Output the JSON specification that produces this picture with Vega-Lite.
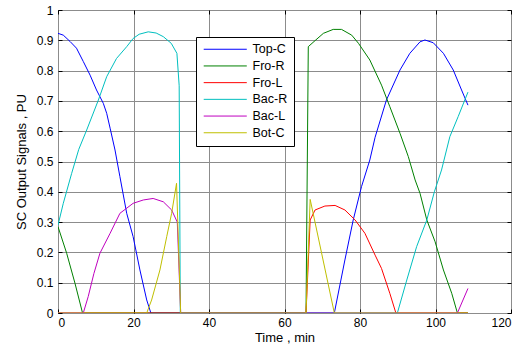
{
  "$schema": "https://vega.github.io/schema/vega-lite/v6.json",
  "width": 453,
  "height": 303,
  "autosize": {"type": "none"},
  "padding": {"left": 58, "top": 10, "right": 15, "bottom": 35},
  "background": "white",
  "config": {
    "font": "Liberation Sans",
    "view": {"stroke": "black", "strokeWidth": 1},
    "axis": {
      "labelFont": "Liberation Sans",
      "titleFont": "Liberation Sans",
      "labelFontSize": 12,
      "titleFontSize": 13,
      "titleFontWeight": "normal",
      "labelColor": "black",
      "titleColor": "black",
      "gridColor": "#8c8c8c",
      "gridOpacity": 1,
      "gridWidth": 1,
      "tickColor": "black",
      "domain": false
    }
  },
  "data": {
    "values": [
      {"s": "Top-C", "t": 0, "v": 0.923}, {"s": "Top-C", "t": 1.4, "v": 0.917}, {"s": "Top-C", "t": 3.2, "v": 0.896}, {"s": "Top-C", "t": 4.9, "v": 0.874}, {"s": "Top-C", "t": 6.7, "v": 0.83}, {"s": "Top-C", "t": 8.5, "v": 0.785}, {"s": "Top-C", "t": 10.2, "v": 0.736}, {"s": "Top-C", "t": 12, "v": 0.692}, {"s": "Top-C", "t": 12.9, "v": 0.659}, {"s": "Top-C", "t": 13.8, "v": 0.61}, {"s": "Top-C", "t": 15.1, "v": 0.538}, {"s": "Top-C", "t": 16.4, "v": 0.45}, {"s": "Top-C", "t": 18.2, "v": 0.329}, {"s": "Top-C", "t": 19.9, "v": 0.252}, {"s": "Top-C", "t": 21.7, "v": 0.142}, {"s": "Top-C", "t": 23.5, "v": 0.043}, {"s": "Top-C", "t": 24.6, "v": 0}, {"s": "Top-C", "t": 32.5, "v": 0}, {"s": "Top-C", "t": 65.7, "v": 0}, {"s": "Top-C", "t": 73.2, "v": 0}, {"s": "Top-C", "t": 76, "v": 0.175}, {"s": "Top-C", "t": 78.2, "v": 0.307}, {"s": "Top-C", "t": 80.4, "v": 0.417}, {"s": "Top-C", "t": 82.6, "v": 0.505}, {"s": "Top-C", "t": 84, "v": 0.58}, {"s": "Top-C", "t": 87, "v": 0.703}, {"s": "Top-C", "t": 90.6, "v": 0.802}, {"s": "Top-C", "t": 93.2, "v": 0.857}, {"s": "Top-C", "t": 95.9, "v": 0.895}, {"s": "Top-C", "t": 97.2, "v": 0.901}, {"s": "Top-C", "t": 99.4, "v": 0.892}, {"s": "Top-C", "t": 102.1, "v": 0.857}, {"s": "Top-C", "t": 104.7, "v": 0.802}, {"s": "Top-C", "t": 106.9, "v": 0.736}, {"s": "Top-C", "t": 108.6, "v": 0.686},
      {"s": "Fro-R", "t": 0, "v": 0.285}, {"s": "Fro-R", "t": 2.3, "v": 0.197}, {"s": "Fro-R", "t": 4.5, "v": 0.098}, {"s": "Fro-R", "t": 6.5, "v": 0}, {"s": "Fro-R", "t": 32.5, "v": 0}, {"s": "Fro-R", "t": 65.7, "v": 0}, {"s": "Fro-R", "t": 66.3, "v": 0.879}, {"s": "Fro-R", "t": 68.1, "v": 0.899}, {"s": "Fro-R", "t": 70.3, "v": 0.923}, {"s": "Fro-R", "t": 72.9, "v": 0.936}, {"s": "Fro-R", "t": 75.1, "v": 0.936}, {"s": "Fro-R", "t": 77.8, "v": 0.917}, {"s": "Fro-R", "t": 79.6, "v": 0.89}, {"s": "Fro-R", "t": 82.6, "v": 0.835}, {"s": "Fro-R", "t": 85.7, "v": 0.752}, {"s": "Fro-R", "t": 87.9, "v": 0.681}, {"s": "Fro-R", "t": 90.6, "v": 0.593}, {"s": "Fro-R", "t": 92.8, "v": 0.516}, {"s": "Fro-R", "t": 94.6, "v": 0.439}, {"s": "Fro-R", "t": 95.9, "v": 0.395}, {"s": "Fro-R", "t": 97.7, "v": 0.307}, {"s": "Fro-R", "t": 99.9, "v": 0.235}, {"s": "Fro-R", "t": 102.1, "v": 0.142}, {"s": "Fro-R", "t": 104.3, "v": 0.065}, {"s": "Fro-R", "t": 105.8, "v": 0}, {"s": "Fro-R", "t": 108.6, "v": 0},
      {"s": "Fro-L", "t": 0, "v": 0}, {"s": "Fro-L", "t": 65.7, "v": 0}, {"s": "Fro-L", "t": 66.8, "v": 0.307}, {"s": "Fro-L", "t": 68.1, "v": 0.34}, {"s": "Fro-L", "t": 70.7, "v": 0.353}, {"s": "Fro-L", "t": 73.4, "v": 0.355}, {"s": "Fro-L", "t": 76, "v": 0.34}, {"s": "Fro-L", "t": 78.7, "v": 0.307}, {"s": "Fro-L", "t": 81.3, "v": 0.263}, {"s": "Fro-L", "t": 84, "v": 0.191}, {"s": "Fro-L", "t": 85.7, "v": 0.147}, {"s": "Fro-L", "t": 87.9, "v": 0.065}, {"s": "Fro-L", "t": 89.5, "v": 0}, {"s": "Fro-L", "t": 108.6, "v": 0},
      {"s": "Bac-R", "t": 0, "v": 0.29}, {"s": "Bac-R", "t": 1.4, "v": 0.362}, {"s": "Bac-R", "t": 3.6, "v": 0.46}, {"s": "Bac-R", "t": 5.5, "v": 0.54}, {"s": "Bac-R", "t": 7.6, "v": 0.604}, {"s": "Bac-R", "t": 10.7, "v": 0.703}, {"s": "Bac-R", "t": 12.9, "v": 0.78}, {"s": "Bac-R", "t": 15.5, "v": 0.84}, {"s": "Bac-R", "t": 18.2, "v": 0.879}, {"s": "Bac-R", "t": 19.9, "v": 0.906}, {"s": "Bac-R", "t": 21.5, "v": 0.92}, {"s": "Bac-R", "t": 23.9, "v": 0.928}, {"s": "Bac-R", "t": 26, "v": 0.924}, {"s": "Bac-R", "t": 27.9, "v": 0.912}, {"s": "Bac-R", "t": 30, "v": 0.89}, {"s": "Bac-R", "t": 31.5, "v": 0.857}, {"s": "Bac-R", "t": 32.1, "v": 0.75}, {"s": "Bac-R", "t": 32.4, "v": 0}, {"s": "Bac-R", "t": 89.9, "v": 0}, {"s": "Bac-R", "t": 92.4, "v": 0.109}, {"s": "Bac-R", "t": 95, "v": 0.219}, {"s": "Bac-R", "t": 97.7, "v": 0.307}, {"s": "Bac-R", "t": 99.7, "v": 0.4}, {"s": "Bac-R", "t": 101.6, "v": 0.472}, {"s": "Bac-R", "t": 103.8, "v": 0.582}, {"s": "Bac-R", "t": 106, "v": 0.648}, {"s": "Bac-R", "t": 108.6, "v": 0.729},
      {"s": "Bac-L", "t": 0, "v": 0}, {"s": "Bac-L", "t": 6.7, "v": 0}, {"s": "Bac-L", "t": 8, "v": 0.054}, {"s": "Bac-L", "t": 9.5, "v": 0.13}, {"s": "Bac-L", "t": 11.1, "v": 0.197}, {"s": "Bac-L", "t": 13.8, "v": 0.263}, {"s": "Bac-L", "t": 16.4, "v": 0.329}, {"s": "Bac-L", "t": 19.9, "v": 0.362}, {"s": "Bac-L", "t": 22.6, "v": 0.373}, {"s": "Bac-L", "t": 25.2, "v": 0.378}, {"s": "Bac-L", "t": 27.9, "v": 0.367}, {"s": "Bac-L", "t": 30.1, "v": 0.34}, {"s": "Bac-L", "t": 31.6, "v": 0.3}, {"s": "Bac-L", "t": 32.5, "v": 0}, {"s": "Bac-L", "t": 105.8, "v": 0}, {"s": "Bac-L", "t": 108.6, "v": 0.081},
      {"s": "Bot-C", "t": 0, "v": 0}, {"s": "Bot-C", "t": 23.5, "v": 0}, {"s": "Bot-C", "t": 24.8, "v": 0.043}, {"s": "Bot-C", "t": 27, "v": 0.142}, {"s": "Bot-C", "t": 28.8, "v": 0.252}, {"s": "Bot-C", "t": 30.1, "v": 0.329}, {"s": "Bot-C", "t": 31.4, "v": 0.428}, {"s": "Bot-C", "t": 32.5, "v": 0}, {"s": "Bot-C", "t": 65.7, "v": 0}, {"s": "Bot-C", "t": 66.8, "v": 0.375}, {"s": "Bot-C", "t": 73.2, "v": 0}, {"s": "Bot-C", "t": 108.6, "v": 0}
    ]
  },
  "layer": [
    {
      "mark": {"type": "line", "opacity": 0},
      "encoding": {
        "x": {"field": "t", "type": "quantitative", "scale": {"domain": [0, 120], "nice": false, "zero": false}, "axis": {"orient": "top", "values": [0, 20, 40, 60, 80, 100, 120], "labels": false, "grid": true, "tickSize": -4, "title": null}},
        "y": {"field": "v", "type": "quantitative", "scale": {"domain": [0, 1], "nice": false}, "axis": {"orient": "right", "values": [0, 0.1, 0.2, 0.3, 0.4, 0.5, 0.6, 0.7, 0.8, 0.9, 1], "labels": false, "grid": true, "tickSize": -4, "title": null}}
      }
    },
    {
      "mark": {"type": "line", "strokeWidth": 1, "clip": true},
      "encoding": {
        "x": {
          "field": "t", "type": "quantitative",
          "axis": {"orient": "bottom", "values": [0, 20, 40, 60, 80, 100, 120], "title": "Time , min", "grid": false, "tickSize": -4, "labelPadding": 8, "titlePadding": 3}
        },
        "y": {
          "field": "v", "type": "quantitative",
          "axis": {"orient": "left", "values": [0, 0.1, 0.2, 0.3, 0.4, 0.5, 0.6, 0.7, 0.8, 0.9, 1], "format": "~g", "title": "SC Output Signals , PU", "grid": false, "tickSize": -4, "labelPadding": 9, "titlePadding": 8}
        },
        "color": {
          "field": "s", "type": "nominal",
          "scale": {"domain": ["Top-C", "Fro-R", "Fro-L", "Bac-R", "Bac-L", "Bot-C"], "range": ["#0000ff", "#008000", "#ff0000", "#00bfbf", "#bf00bf", "#bfbf00"]},
          "legend": {
            "title": null, "orient": "none", "legendX": 138, "legendY": 27,
            "strokeColor": "black", "fillColor": "white", "padding": 6,
            "symbolType": "M-4,0H4", "symbolSize": 116, "symbolStrokeWidth": 1,
            "symbolOffset": 17, "labelOffset": 21, "rowPadding": 3.7,
            "labelFontSize": 12.5, "labelColor": "black", "labelFont": "Liberation Sans"
          }
        }
      }
    }
  ],
  "resolve": {"axis": {"x": "independent", "y": "independent"}}
}
